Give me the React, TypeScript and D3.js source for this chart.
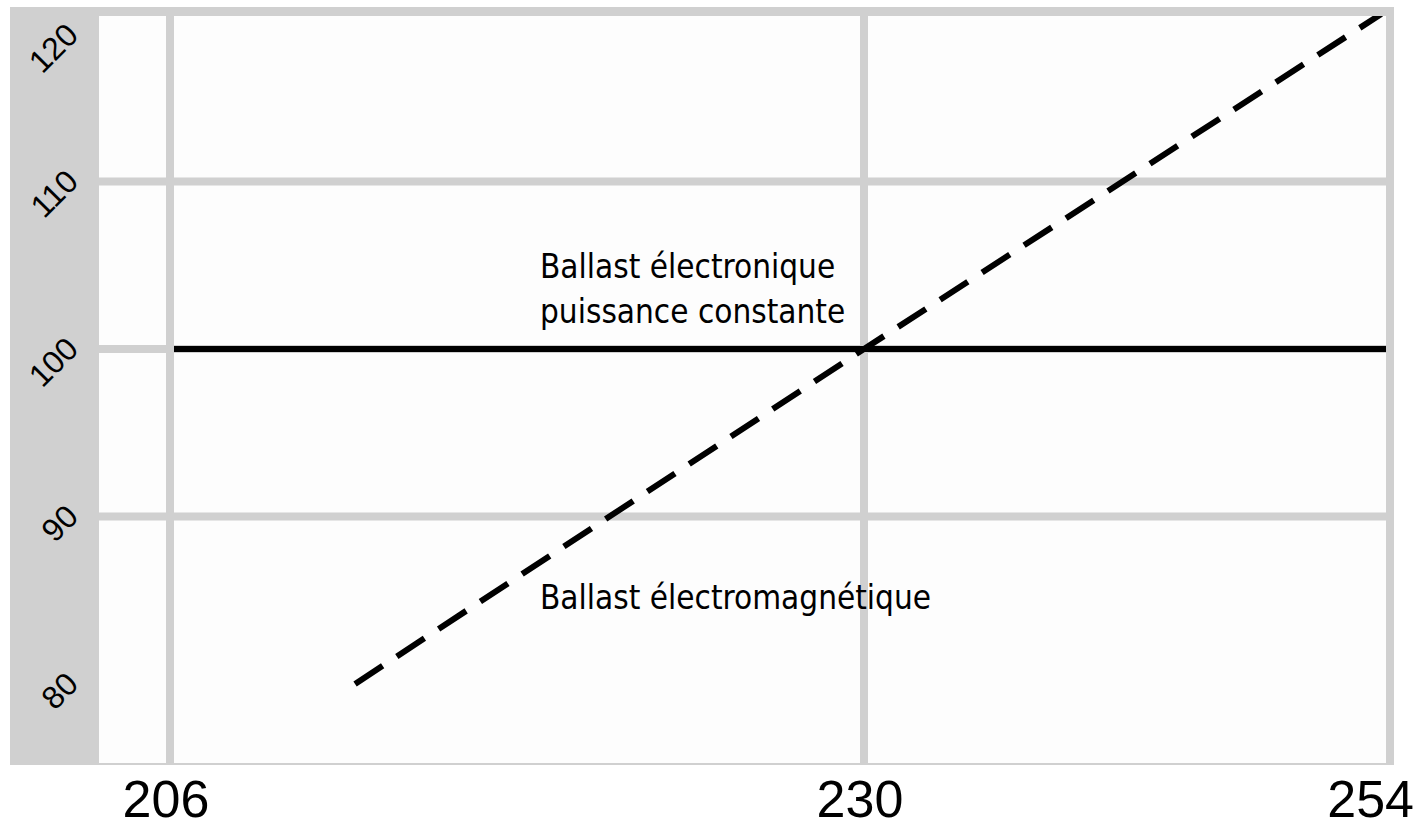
import React from 'react';
import * as d3 from 'd3';

const width = 1420;
const height = 829;

// axis values
const voltTicks = [206, 230, 254];
const fluxTicks = [80, 90, 100, 110, 120];

// electronic ballast, constant power
const electronicVolt = [206, 254];
const electronicFlux = [100, 100];

// electromagnetic ballast
const magneticVolt = [212.4, 230, 253.6];
const magneticFlux = [80, 100, 120];

const electronicLabel = ['Ballast électronique', 'puissance constante'];
const magneticLabel = ['Ballast électromagnétique'];

const grey = '#d0d0d0';

// the drawing is not linear in voltage: each half has its own width
const xScale = d3.scaleLinear().domain(voltTicks).range([170, 864, 1390]);
const yScale = d3.scaleLinear().domain([80, 120]).range([684, 14]);

const frame = { left: 10, top: 7, right: 1394, bottom: 765, innerLeft: 99, innerTop: 16, innerBottom: 763 };

const App = () => {
  const line = d3.line<[number, number]>()
    .x(d => xScale(d[0]))
    .y(d => yScale(d[1]));

  const solid = line(electronicVolt.map((v, i) => [v, electronicFlux[i]]));
  const dashed = line(magneticVolt.map((v, i) => [v, magneticFlux[i]]));

  const plotRight = xScale(254) - 4;
  const annX = xScale(206) + 370;
  const textFont = '"Liberation Sans Narrow", "DejaVu Sans Condensed", sans-serif';

  return (
    <svg width={width} height={height} style={{ position: 'absolute', left: 0, top: 0, background: '#fff' }}>
      <defs>
        <clipPath id="plotClip">
          <rect x={xScale(206) + 4} y={frame.innerTop} width={plotRight - xScale(206) - 4} height={frame.innerBottom - frame.innerTop} />
        </clipPath>
      </defs>
      <rect x={frame.left} y={frame.top} width={frame.right - frame.left} height={frame.bottom - frame.top} fill={grey} />
      <rect x={frame.innerLeft} y={frame.innerTop} width={plotRight - frame.innerLeft} height={frame.innerBottom - frame.innerTop} fill="#fdfdfd" />

      {/* grid */}
      {voltTicks.slice(0, 2).map(v => (
        <line key={v} x1={xScale(v)} x2={xScale(v)} y1={frame.innerTop} y2={frame.innerBottom} stroke={grey} strokeWidth={8} />
      ))}
      {fluxTicks.slice(1, 4).map(f => (
        <line key={f} x1={frame.innerLeft} x2={plotRight} y1={yScale(f)} y2={yScale(f)} stroke={grey} strokeWidth={8} />
      ))}

      {/* series */}
      <g clipPath="url(#plotClip)">
        <path d={solid || ''} fill="none" stroke="#000" strokeWidth={6} />
        <path d={dashed || ''} fill="none" stroke="#000" strokeWidth={6} strokeDasharray="33 17" />
      </g>

      {/* y tick labels */}
      {fluxTicks.map(f => {
        const ty = Math.max(yScale(f) + 2, 37);
        return (
          <text key={f} x={80} y={ty} transform={`rotate(-45, 80, ${ty})`} textAnchor="end"
            fontFamily='"Liberation Sans", Arial, sans-serif' fontSize={32} fill="#000">{f}</text>
        );
      })}

      {/* x tick labels */}
      {voltTicks.map((v, i) => {
        const last = i === voltTicks.length - 1;
        return (
          <text key={v} x={last ? width - 6 : xScale(v) - 4} y={817} textAnchor={last ? 'end' : 'middle'}
            fontFamily='"Liberation Sans", Arial, sans-serif' fontSize={52} fill="#000">{v}</text>
        );
      })}

      {/* annotations */}
      {electronicLabel.map((t, i) => (
        <text key={t} x={annX} y={278 + i * 45} fontFamily={textFont} fontSize={33} fill="#000">{t}</text>
      ))}
      {magneticLabel.map(t => (
        <text key={t} x={annX} y={609} fontFamily={textFont} fontSize={33} fill="#000">{t}</text>
      ))}
    </svg>
  );
};

export default App;
